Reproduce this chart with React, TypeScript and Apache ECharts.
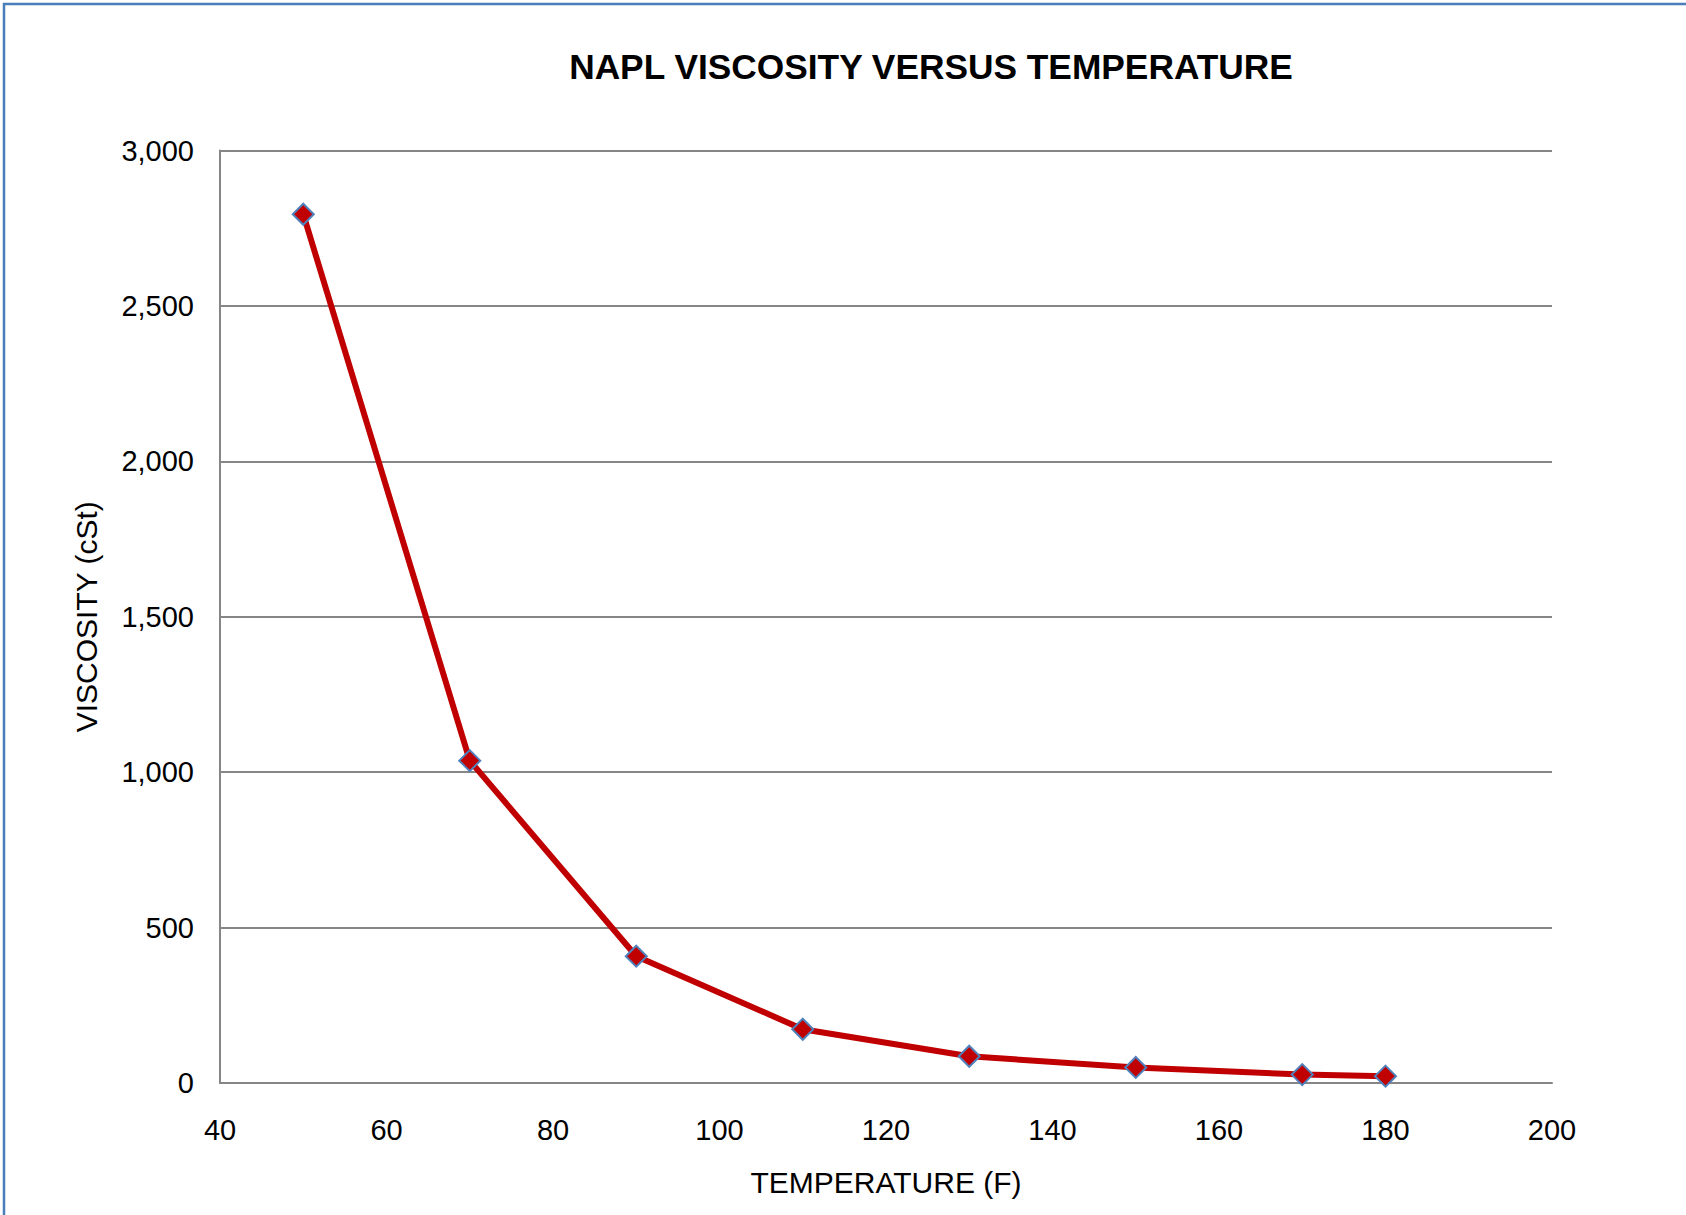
import React, { useEffect, useRef } from "react";
import * as echarts from "echarts";

const titleText = "NAPL VISCOSITY VERSUS TEMPERATURE";
const xAxisName = "TEMPERATURE (F)";
const yAxisName = "VISCOSITY (cSt)";
const temperatures = [50, 70, 90, 110, 130, 150, 170, 180];
const viscosities = [2795, 1037, 408, 173, 86, 50, 27, 22];
const xTicks = [40, 60, 80, 100, 120, 140, 160, 180, 200];
const yTicks = [0, 500, 1000, 1500, 2000, 2500, 3000];

export default function App() {
  const ref = useRef<HTMLDivElement>(null);
  useEffect(() => {
    if (!ref.current) return;
    const chart = echarts.init(ref.current, null, { renderer: "svg" });
    const font = "'Liberation Sans', Arial, sans-serif";
    chart.setOption({
      animation: false,
      backgroundColor: "#ffffff",
      title: {
        text: titleText,
        left: 926,
        top: 44,
        textAlign: "center",
        textStyle: { fontFamily: font, fontSize: 35.3, fontWeight: "bold", color: "#000" },
      },
      graphic: [
        {
          type: "rect",
          shape: { x: 4, y: 4, width: 1760, height: 1300 },
          style: { fill: "none", stroke: "#4A7EBB", lineWidth: 2.5 },
          silent: true,
        },
      ],
      grid: { left: 220, right: 134, top: 150.5, bottom: 132, containLabel: false },
      xAxis: {
        type: "value",
        min: xTicks[0],
        max: xTicks[xTicks.length - 1],
        interval: 20,
        name: xAxisName,
        nameLocation: "middle",
        nameGap: 84,
        nameTextStyle: { fontFamily: font, fontSize: 30, color: "#000" },
        axisLine: { show: true, lineStyle: { color: "#868686", width: 2 } },
        axisTick: { show: false },
        splitLine: { show: false },
        axisLabel: { fontFamily: font, fontSize: 29, color: "#000", margin: 32 },
      },
      yAxis: {
        type: "value",
        min: yTicks[0],
        max: yTicks[yTicks.length - 1],
        interval: 500,
        name: yAxisName,
        nameLocation: "middle",
        nameGap: 119,
        nameRotate: 90,
        nameTextStyle: { fontFamily: font, fontSize: 30, color: "#000" },
        axisLine: { show: true, lineStyle: { color: "#868686", width: 2 } },
        axisTick: { show: false },
        splitLine: { show: true, lineStyle: { color: "#868686", width: 2 } },
        axisLabel: {
          fontFamily: font,
          fontSize: 29,
          color: "#000",
          margin: 26,
          formatter: (v: number) => v.toLocaleString("en-US"),
        },
      },
      series: [
        {
          type: "line",
          data: temperatures.map((t, i) => [t, viscosities[i]]),
          lineStyle: { color: "#C00000", width: 6 },
          symbol: "diamond",
          symbolSize: 21,
          itemStyle: { color: "#C00000", borderColor: "#4F81BD", borderWidth: 2 },
        },
      ],
    });
    return () => chart.dispose();
  }, []);
  return (
    <div
      ref={ref}
      style={{ position: "fixed", left: 0, top: 0, width: 1686, height: 1215 }}
    />
  );
}
